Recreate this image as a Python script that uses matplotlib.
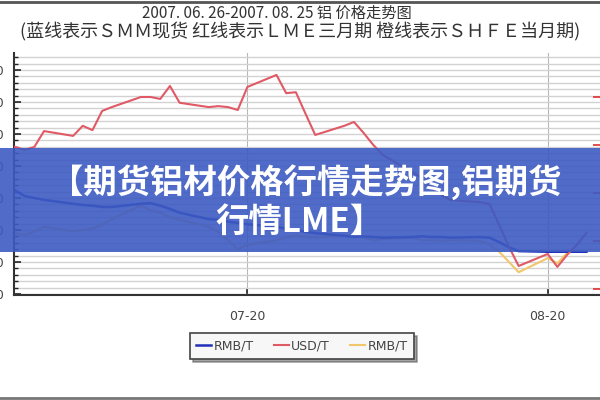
import matplotlib
matplotlib.use("Agg")
import matplotlib.pyplot as plt
import matplotlib.dates as mdates
from matplotlib.lines import Line2D
from matplotlib.patches import Rectangle
from matplotlib.ticker import MultipleLocator
import pandas as pd

plt.rcParams['font.family'] = ['Noto Sans CJK SC', 'DejaVu Sans']

# trading days 2007-06-26 .. 2007-08-24
dates = pd.to_datetime([
    '2007-06-26', '2007-06-27', '2007-06-28', '2007-06-29',
    '2007-07-02', '2007-07-03', '2007-07-04', '2007-07-05', '2007-07-06',
    '2007-07-09', '2007-07-10', '2007-07-11', '2007-07-12', '2007-07-13',
    '2007-07-16', '2007-07-17', '2007-07-18', '2007-07-19', '2007-07-20',
    '2007-07-23', '2007-07-24', '2007-07-25', '2007-07-26', '2007-07-27',
    '2007-07-30', '2007-07-31', '2007-08-01', '2007-08-02', '2007-08-03',
    '2007-08-06', '2007-08-07', '2007-08-08', '2007-08-09', '2007-08-10',
    '2007-08-13', '2007-08-14', '2007-08-15', '2007-08-16', '2007-08-17',
    '2007-08-20', '2007-08-21', '2007-08-22', '2007-08-23', '2007-08-24',
])

# SMM 现货 (RMB/T)
smm_rmb = [20120, 20030, 20000, 19970, 19910, 19890, 19880, 19860, 19860,
           19910, 19920, 19880, 19830, 19770, 19670, 19660, 19630, 19610,
           19590, 19550, 19520, 19500, 19470, 19450, 19410, 19390, 19400,
           19390, 19380, 19390, 19400, 19390, 19390, 19380, 19390, 19380,
           19310, 19230, 19170, 19160, 19160, 19160, 19160, 19160]

# LME 三月期 (USD/T)
lme_usd = [2696, 2690, 2696, 2729, 2719, 2740, 2731, 2771, 2779, 2800,
           2800, 2796, 2823, 2788, 2779, 2781, 2779, 2773, 2821, 2846,
           2808, 2810, 2765, 2721, 2740, 2748, 2725, 2700, 2679, 2644,
           2631, 2610, 2596, 2585, 2581, 2577, 2533, 2488, 2448, 2473,
           2446, 2471, 2492, 2517]

# SHFE 当月期 (RMB/T)
shfe_rmb = [19450, 19420, 19480, 19550, 19480, 19500, 19520, 19580, 19670,
            19880, 19810, 19770, 19700, 19660, 19550, 19470, 19340, 19200,
            19270, 19340, 19380, 19410, 19390, 19380, 19410, 19410, 19380,
            19340, 19360, 19380, 19340, 19340, 19330, 19340, 19330, 19270,
            19160, 19000, 18840, 19060, 18980, 19140]

legend_labels = ['RMB/T', 'USD/T', 'RMB/T']

fig = plt.figure(figsize=(6, 4), dpi=100)
ax = fig.add_axes([14/600, 105/400, 586/600, 242/400])

start = pd.Timestamp('2007-06-26')
ax.set_xlim(start - pd.Timedelta(hours=2.4), start + pd.Timedelta(days=60.4))
ax.set_ylim(18484, 22266)

ax.yaxis.set_major_locator(MultipleLocator(500))
ax.yaxis.set_minor_locator(MultipleLocator(100))
ax.xaxis.set_major_locator(mdates.DayLocator(bymonthday=20))
ax.xaxis.set_major_formatter(mdates.DateFormatter('%m-%d'))

ax.grid(axis='y', which='both', color='#d2d2d2', lw=1)
ax.grid(axis='x', which='major', color='#b8b8b8', lw=0.8)
ax.set_axisbelow(True)

for s in ['top', 'right']:
    ax.spines[s].set_visible(False)
for s in ['left', 'bottom']:
    ax.spines[s].set_color('#333333')
    ax.spines[s].set_linewidth(1.5)

ax.tick_params(axis='y', which='major', direction='in', length=5, width=1.2,
               color='#222222', labelsize=9, labelcolor='#444444', pad=7)
ax.tick_params(axis='y', which='minor', direction='in', length=3, width=1,
               color='#222222')
ax.tick_params(axis='x', which='major', direction='in', length=4, width=1.2,
               color='#222222', labelsize=9, labelcolor='#444444', pad=11)
for lab in ax.get_xticklabels() + ax.get_yticklabels():
    lab.set_family('DejaVu Sans')

l3, = ax.plot(dates[:len(shfe_rmb)], shfe_rmb, color='#f2c66a', lw=1.5)
l1, = ax.plot(dates, smm_rmb, color='#2030b8', lw=1.8)

ax2 = ax.twinx()
ax2.set_ylim(2387.5, 2891.7)
ax2.yaxis.set_major_locator(MultipleLocator(100))
for s in ax2.spines.values():
    s.set_visible(False)
ax2.tick_params(axis='y', direction='in', length=5, width=1.2,
                color='#e03030', labelright=False)
l2, = ax2.plot(dates, lme_usd, color='#e05a66', lw=1.5)

leg = fig.legend([l1, l2, l3], legend_labels, loc='center',
                 bbox_to_anchor=(302/600, 1 - 346/400), ncol=3,
                 fontsize=9, handlelength=1.2, handletextpad=0.2,
                 columnspacing=1.6, frameon=True, fancybox=False,
                 shadow=True, borderpad=0.5)
leg.get_frame().set_edgecolor('#444444')
leg.get_frame().set_linewidth(1.2)
leg.get_frame().set_facecolor('#f7f7f7')
for t in leg.get_texts():
    t.set_color('#444444')
    t.set_family('DejaVu Sans')

fig.text(277/600, 1 - 13/400, '2007. 06. 26-2007. 08. 25 铝 价格走势图',
         ha='center', va='center', fontsize=11, color='#333333')
fig.text(0.5, 1 - 32/400,
         '(蓝线表示ＳＭＭ现货 红线表示ＬＭＥ三月期 橙线表示ＳＨＦＥ当月期)',
         ha='center', va='center', fontsize=13, color='#333333')

fig.add_artist(Line2D([0, 1], [1 - 2/400] * 2, transform=fig.transFigure,
                      color='#555555', lw=2))
fig.add_artist(Line2D([0, 1], [2/400] * 2, transform=fig.transFigure,
                      color='#777777', lw=2))

# overlay banner
fig.add_artist(Rectangle((0, 1 - 252/400), 1, 104/400,
                         transform=fig.transFigure, facecolor='#3d5bc2',
                         alpha=0.9, edgecolor='none', zorder=5))
fig.text(0.51, 1 - 182/400, '【期货铝材价格行情走势图,铝期货',
         ha='center', va='center', fontsize=24, fontweight='bold',
         color='white', zorder=6)
fig.text(0.5, 1 - 222/400, '行情LME】', ha='center', va='center',
         fontsize=24, fontweight='bold', color='white', zorder=6)

fig.savefig('out.png', dpi=100)
